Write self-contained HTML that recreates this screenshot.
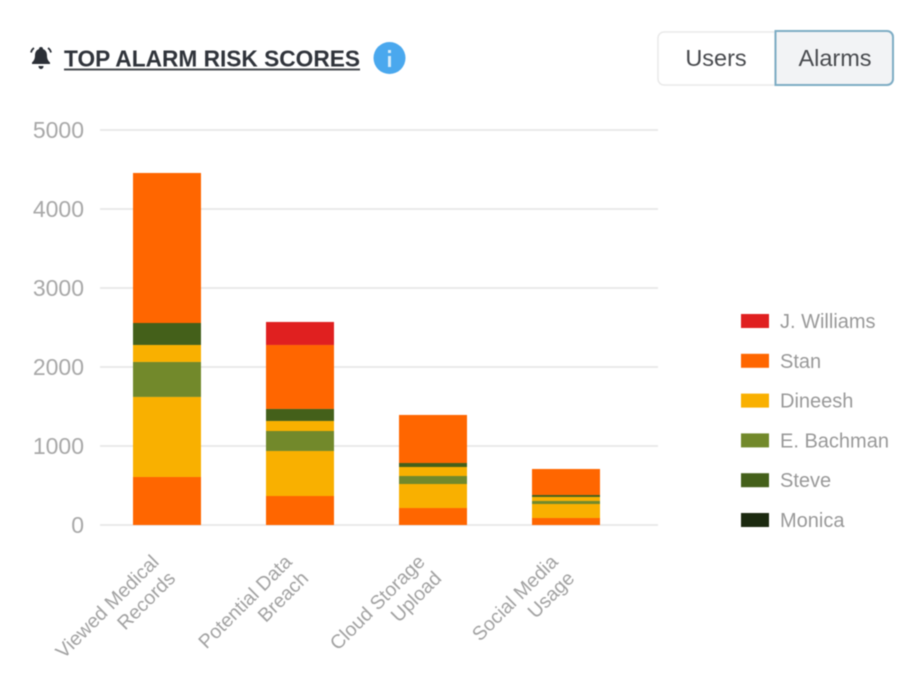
<!DOCTYPE html>
<html lang="en">
<head>
<meta charset="utf-8">
<title>Top Alarm Risk Scores</title>
<style>
  html, body { margin: 0; padding: 0; background: #fff; }
  body { width: 924px; height: 675px; overflow: hidden; position: relative; font-family: "Liberation Sans", sans-serif; }
  svg { position: absolute; left: 0; top: 0; filter: blur(0.55px); }
  text { font-family: "Liberation Sans", sans-serif; }
</style>
</head>
<body>
<svg id="chart" width="924" height="675" viewBox="0 0 924 675" xmlns="http://www.w3.org/2000/svg">
  <g>
    <path d="M41 47c1.300 0 2 .8 2 2 2.800 1 4 3.500 4 6.500 0 3.500 1.300 5.500 3 7v1.500H32v-1.500c1.700-1.500 3-3.500 3-7 0-3 1.200-5.500 4-6.500 0-1.200.7-2 2-2z" fill="#2b2f36"/>
    <path d="M38.500 66h5c0 1.800-1 3-2.500 3s-2.500-1.200-2.500-3z" fill="#2b2f36"/>
    <path d="M34 48c-1.500 1-2.500 2.500-3 4.500M48 48c1.500 1 2.500 2.500 3 4.500" fill="none" stroke="#2b2f36" stroke-width="1.800"/>
  </g>
  <text x="64" y="66.500" font-size="23" font-weight="700" fill="#30343b" textLength="296" lengthAdjust="spacingAndGlyphs">TOP ALARM RISK SCORES</text>
  <rect x="64" y="68.500" width="296" height="2" fill="#4a4d52"/>
  <g>
    <circle cx="389.500" cy="58" r="16" fill="#4aa8ee"/>
    <rect x="388" y="56" width="3" height="11" fill="#d4ebfb"/>
    <rect x="388" y="50" width="3" height="3" fill="#d4ebfb"/>
  </g>
  <g>
    <path d="M775 32H664a6 6 0 0 0-6 6v41a6 6 0 0 0 6 6h111z" fill="#fff" stroke="#e9e9e9" stroke-width="1.500"/>
    <text x="716" y="66" font-size="23.500" fill="#484a4e" text-anchor="middle">Users</text>
  </g>
  <g>
    <path d="M775.500 31H887a6 6 0 0 1 6 6v42a6 6 0 0 1-6 6H775.500z" fill="#f2f3f5" stroke="#7dacc4" stroke-width="2"/>
    <text x="835" y="66" font-size="23.500" fill="#484a4e" text-anchor="middle">Alarms</text>
  </g>
</svg>
<script>
const categories = [
  ['Viewed Medical', 'Records'],
  ['Potential Data', 'Breach'],
  ['Cloud Storage', 'Upload'],
  ['Social Media', 'Usage']
];
const yTicks = [0, 1000, 2000, 3000, 4000, 5000];
const legendNames = ['J. Williams', 'Stan', 'Dineesh', 'E. Bachman', 'Steve', 'Monica'];
const stanLower = [608, 367, 215, 89];
const dineeshLower = [1013, 570, 304, 177];
const bachman = [443, 253, 101, 38];
const dineeshUpper = [215, 127, 114, 51];
const steve = [278, 152, 51, 25];
const monica = [0, 0, 0, 0];
const stanUpper = [1899, 810, 608, 329];
const williams = [0, 291, 0, 0];

const seriesColors = {
  'J. Williams': '#e02020',
  'Stan': '#ff6600',
  'Dineesh': '#f9b000',
  'E. Bachman': '#72892b',
  'Steve': '#44601a',
  'Monica': '#1c2a10'
};
const stackOrder = [
  ['Stan', stanLower],
  ['Dineesh', dineeshLower],
  ['E. Bachman', bachman],
  ['Dineesh', dineeshUpper],
  ['Steve', steve],
  ['Monica', monica],
  ['Stan', stanUpper],
  ['J. Williams', williams]
];

const svg = document.getElementById('chart');
const NS = 'http://www.w3.org/2000/svg';
const plot = { left: 100, right: 658, top: 130, bottom: 525 };
const yMax = 5000;
const bandWidth = 133;
const barWidth = 68;
const firstCenter = 167;

function yScale(v) {
  return plot.bottom - (v / yMax) * (plot.bottom - plot.top);
}
function xCenter(i) {
  return firstCenter + i * bandWidth;
}
function make(tag, attrs, parent) {
  const el = document.createElementNS(NS, tag);
  for (const k in attrs) el.setAttribute(k, attrs[k]);
  parent.appendChild(el);
  return el;
}

const gridGroup = make('g', {}, svg);


const yAxisGroup = make('g', {}, svg);


yTicks.forEach(function (t) {
  const line = make('line', { x1: plot.left, x2: plot.right, y1: yScale(t), y2: yScale(t), stroke: '#e4e4e4', 'stroke-width': 1.5 }, gridGroup);
  
  
  const label = make('text', { x: 84, y: yScale(t) + 8, 'text-anchor': 'end', 'font-size': 23, fill: '#a8a8a8' }, yAxisGroup);
  
  
  label.textContent = String(t);
});

const barsGroup = make('g', {}, svg);


categories.forEach(function (cat, i) {
  let running = 0;
  stackOrder.forEach(function (entry) {
    const value = entry[1][i];
    if (!value) return;
    const yTop = yScale(running + value);
    const yBottom = yScale(running);
    const seg = make('rect', {
      x: xCenter(i) - barWidth / 2,
      y: yTop,
      width: barWidth,
      height: yBottom - yTop,
      fill: seriesColors[entry[0]]
    }, barsGroup);
    
    
    running += value;
  });
});

const xAxisGroup = make('g', {}, svg);


categories.forEach(function (lines, i) {
  lines.forEach(function (txt, j) {
    const px = xCenter(i) - 7 + j * 16.500;
    const py = 563 + j * 16.500;
    const label = make('text', {
      x: px, y: py,
      'text-anchor': 'end',
      'font-size': 19.500,
      fill: '#a2a2a2',
      transform: 'rotate(-45 ' + px + ' ' + py + ')'
    }, xAxisGroup);
    
    
    label.textContent = txt;
  });
});

const legendGroup = make('g', {}, svg);


legendNames.forEach(function (name, i) {
  const cy = 321 + i * 39.800;
  const item = make('g', {}, legendGroup);
  
  
  make('rect', { x: 741, y: cy - 7, width: 28, height: 14, fill: seriesColors[name] }, item);
  const label = make('text', { x: 780, y: cy + 7, 'font-size': 20, fill: '#999' }, item);
  label.textContent = name;
});
</script>
</body>
</html>
